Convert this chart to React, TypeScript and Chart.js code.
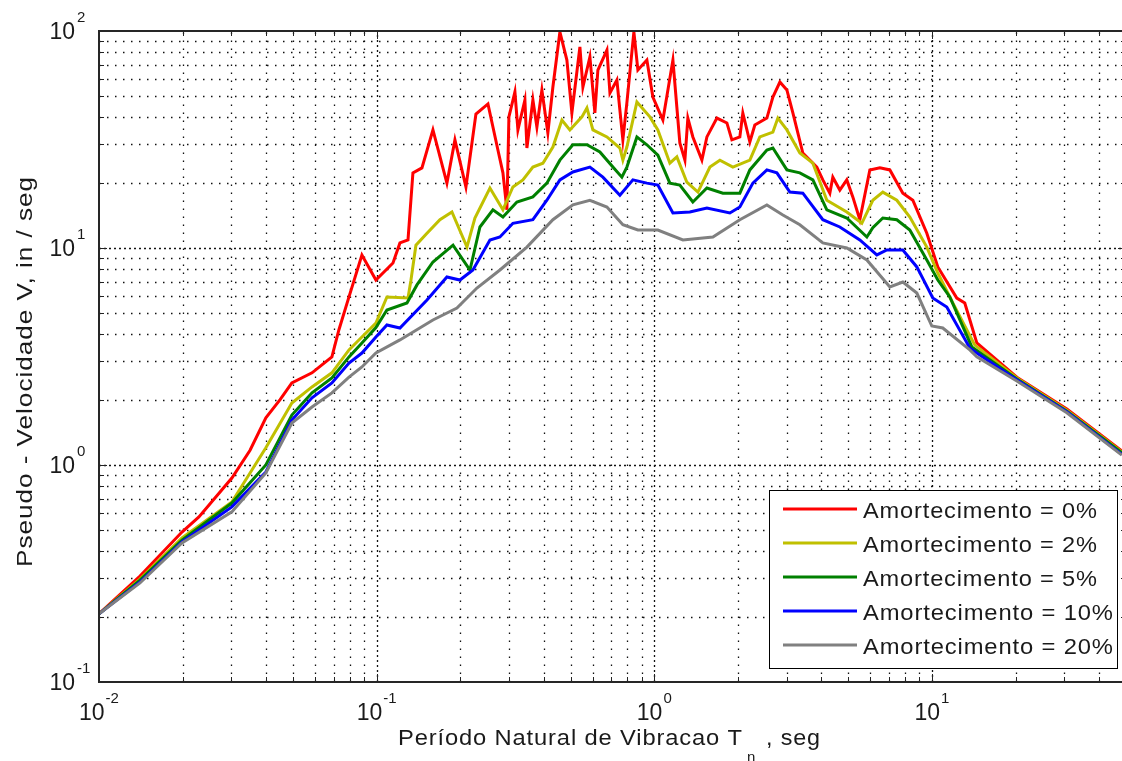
import React, { useEffect, useRef } from "react";
import { Chart, registerables } from "chart.js";

Chart.register(...registerables);

// ---- Data (period T in s, pseudo-velocity V in in/s) ----
const periods0 = [0.01, 0.01405, 0.0199, 0.0229, 0.0301, 0.035, 0.0399, 0.0449, 0.0495, 0.0585, 0.069, 0.0731, 0.0795, 0.0885, 0.0994, 0.1145, 0.1213, 0.1297, 0.1351, 0.1456, 0.1595, 0.1791, 0.1914, 0.2097, 0.2278, 0.2517, 0.2734, 0.285, 0.2945, 0.2995, 0.3148, 0.3227, 0.342, 0.3477, 0.3654, 0.3777, 0.3937, 0.4137, 0.4313, 0.4571, 0.4844, 0.5049, 0.5396, 0.5532, 0.5862, 0.611, 0.6264, 0.6752, 0.6922, 0.7333, 0.7706, 0.7966, 0.8443, 0.8727, 0.9404, 0.9883, 1.074, 1.167, 1.236, 1.289, 1.321, 1.377, 1.484, 1.547, 1.681, 1.826, 1.903, 2.033, 2.084, 2.209, 2.302, 2.544, 2.674, 2.834, 3.003, 3.156, 3.428, 3.85, 4.046, 4.288, 4.396, 4.658, 4.936, 5.188, 5.499, 5.975, 6.493, 7.054, 7.857, 8.536, 9.585, 10.5, 12.29, 13.13, 14.51, 20.22, 30.61, 48.3];
const values0 = [0.206, 0.308, 0.491, 0.576, 0.871, 1.17, 1.65, 2.0, 2.39, 2.66, 3.15, 4.19, 5.95, 9.29, 7.12, 8.53, 10.55, 10.89, 22.2, 23.4, 35.0, 19.9, 31.5, 19.1, 41.4, 46.1, 28.3, 22.2, 15.0, 40.2, 52.4, 35.0, 48.1, 28.9, 48.1, 36.1, 53.5, 33.9, 55.2, 99, 73.5, 41.9, 84.4, 55.2, 75.9, 41.9, 66.1, 81.7, 51.8, 59.4, 31.5, 46.6, 99, 66.1, 73.5, 49.6, 38.9, 73.5, 30.5, 25.4, 39.7, 32.5, 25.4, 32.5, 39.7, 37.7, 31.5, 32.5, 41.9, 30.8, 36.9, 39.7, 49.6, 58.2, 53.5, 41.9, 27.4, 23.6, 20.6, 17.9, 21.2, 18.5, 20.6, 17.2, 13.5, 22.9, 23.4, 22.9, 17.9, 16.6, 11.7, 8.18, 5.88, 5.58, 3.65, 2.54, 1.81, 1.16];

const periods2 = [0.01, 0.01405, 0.0199, 0.0301, 0.0399, 0.0495, 0.0585, 0.069, 0.0795, 0.0885, 0.0994, 0.1089, 0.1297, 0.1329, 0.1385, 0.1518, 0.169, 0.1867, 0.2115, 0.2259, 0.2559, 0.285, 0.3096, 0.3363, 0.3654, 0.397, 0.4313, 0.4648, 0.4966, 0.5487, 0.572, 0.601, 0.6752, 0.7518, 0.7706, 0.7966, 0.8657, 0.964, 1.03, 1.138, 1.206, 1.31, 1.436, 1.586, 1.723, 1.919, 2.209, 2.4, 2.674, 2.787, 3.003, 3.344, 3.725, 4.183, 4.936, 5.591, 6.124, 6.654, 7.474, 8.325, 9.585, 10.5, 11.89, 14.27, 20.22, 30.61, 48.3];
const values2 = [0.206, 0.298, 0.461, 0.675, 1.2, 1.93, 2.29, 2.66, 3.39, 3.89, 4.51, 5.95, 5.88, 7.1, 10.3, 11.7, 13.5, 14.65, 10.1, 13.75, 18.9, 15.0, 19.1, 20.6, 23.6, 24.6, 29.2, 38.9, 35.0, 40.2, 44.2, 35.0, 32.5, 28.9, 25.4, 29.2, 47.1, 40.2, 35.0, 24.6, 26.3, 20.1, 18.1, 23.6, 25.4, 23.6, 25.4, 32.5, 34.2, 39.7, 35.0, 27.4, 24.6, 16.6, 14.65, 13.0, 16.6, 18.1, 16.6, 13.9, 10.1, 7.67, 5.58, 3.57, 2.52, 1.79, 1.15];

const periods5 = [0.01, 0.01405, 0.0199, 0.0301, 0.0399, 0.0495, 0.0585, 0.069, 0.0795, 0.0885, 0.0994, 0.1089, 0.1286, 0.1397, 0.1595, 0.1884, 0.2168, 0.2355, 0.2623, 0.285, 0.32, 0.3654, 0.4103, 0.4571, 0.5091, 0.572, 0.6369, 0.7094, 0.7642, 0.7966, 0.8657, 0.9404, 1.03, 1.138, 1.236, 1.377, 1.547, 1.766, 2.033, 2.209, 2.544, 2.674, 3.003, 3.344, 3.725, 4.183, 4.936, 5.83, 6.124, 6.654, 7.474, 8.325, 9.585, 10.5, 11.6, 13.92, 20.22, 30.61, 48.3];
const values5 = [0.206, 0.295, 0.451, 0.668, 1.0, 1.7, 2.15, 2.52, 3.15, 3.65, 4.3, 5.18, 5.58, 6.76, 8.62, 10.3, 7.92, 12.5, 15.0, 13.9, 16.3, 17.2, 19.9, 25.4, 29.9, 29.9, 27.7, 23.6, 21.2, 23.6, 32.5, 29.9, 26.8, 19.9, 19.5, 16.3, 18.9, 17.9, 17.9, 22.9, 28.3, 28.9, 22.9, 22.2, 20.6, 15.0, 13.75, 11.24, 12.4, 13.75, 13.5, 12.1, 8.81, 7.12, 5.95, 3.5, 2.49, 1.77, 1.14];

const periods10 = [0.01, 0.01405, 0.0199, 0.0301, 0.0399, 0.0495, 0.0585, 0.069, 0.0795, 0.0885, 0.0994, 0.1089, 0.1213, 0.1518, 0.1791, 0.1995, 0.2222, 0.2559, 0.278, 0.3096, 0.3654, 0.4103, 0.4571, 0.5091, 0.5862, 0.6529, 0.7518, 0.8375, 0.9404, 1.03, 1.167, 1.343, 1.547, 1.872, 2.033, 2.265, 2.544, 2.764, 3.078, 3.428, 4.046, 4.658, 5.499, 6.333, 6.88, 7.857, 8.823, 10.07, 11.31, 13.69, 14.51, 20.22, 30.61, 48.3];
const values10 = [0.206, 0.289, 0.442, 0.641, 0.929, 1.61, 2.04, 2.39, 2.95, 3.28, 3.89, 4.42, 4.28, 5.76, 7.35, 7.12, 7.92, 10.89, 11.24, 13.0, 13.5, 16.6, 20.6, 22.4, 23.6, 21.2, 17.5, 20.6, 19.9, 19.5, 14.5, 14.65, 15.3, 14.5, 15.45, 19.9, 22.9, 22.2, 18.1, 17.9, 13.5, 12.5, 10.89, 9.29, 9.79, 9.79, 8.18, 5.88, 5.35, 3.46, 3.28, 2.47, 1.76, 1.12];

const periods20 = [0.01, 0.01405, 0.0199, 0.0301, 0.0399, 0.0495, 0.0585, 0.069, 0.0795, 0.0885, 0.0994, 0.1213, 0.1595, 0.1946, 0.2297, 0.278, 0.3477, 0.4313, 0.5091, 0.5862, 0.6752, 0.7706, 0.8727, 1.03, 1.268, 1.626, 2.033, 2.544, 2.905, 3.344, 4.046, 4.936, 5.83, 7.054, 7.857, 8.823, 9.99, 10.94, 13.69, 14.51, 20.22, 30.61, 48.3];
const values20 = [0.206, 0.286, 0.437, 0.608, 0.919, 1.56, 1.85, 2.15, 2.54, 2.83, 3.28, 3.77, 4.66, 5.29, 6.54, 7.92, 10.1, 13.5, 15.8, 16.6, 15.45, 12.8, 12.1, 12.1, 10.89, 11.24, 13.5, 15.8, 14.2, 12.8, 10.55, 10.0, 8.81, 6.61, 6.97, 6.2, 4.37, 4.28, 3.39, 3.15, 2.44, 1.74, 1.11];

const seriesLabels = ["Amortecimento = 0%", "Amortecimento = 2%", "Amortecimento = 5%", "Amortecimento = 10%", "Amortecimento = 20%"];
const seriesColors = ["#ff0000", "#c0c000", "#008000", "#0000ff", "#808080"];
const seriesPeriods = [periods0, periods2, periods5, periods10, periods20];
const seriesValues = [values0, values2, values5, values10, values20];

// axis decades and their exponent labels
const xDecades = [0.01, 0.1, 1, 10];
const xExponents = ["-2", "-1", "0", "1"];
const yDecades = [0.1, 1, 10, 100];
const yExponents = ["-1", "0", "1", "2"];
const xTitleMain = "Período Natural de Vibracao T";
const xTitleSub = "n";
const xTitleEnd = ", seg";
const yTitle = "Pseudo - Velocidade V, in / seg";

const FONT = '"Liberation Sans", Arial, Helvetica, sans-serif';
const TEXT = "#1a1a1a";

// draws text with a little letter spacing, then stretched horizontally to a target width
function wideText(ctx: CanvasRenderingContext2D, text: string, x: number, y: number, width: number) {
  const c: any = ctx;
  const hasLS = "letterSpacing" in c;
  const n = Array.from(text).length;
  const ls = hasLS ? 0.8 : 0;
  if (hasLS) c.letterSpacing = ls + "px";
  const w = ctx.measureText(text).width - ls; // remove trailing spacing
  ctx.textAlign = "left";
  ctx.save();
  ctx.translate(x, y);
  ctx.scale(width / w, 1);
  ctx.fillText(text, 0, 0);
  ctx.restore();
  if (hasLS) c.letterSpacing = "0px";
  void n;
}

function gridValues(decades: number[], min: number, max: number) {
  const out: { v: number; major: boolean }[] = [];
  decades.forEach((d) => {
    for (let m = 1; m <= 9; m++) {
      const v = d * m;
      if (v >= min * 0.999 && v <= max * 1.001) out.push({ v, major: m === 1 });
    }
  });
  return out;
}

const decorPlugin = {
  id: "decor",
  beforeDatasetsDraw(chart: any) {
    const { ctx, chartArea: a, scales } = chart;
    const xs = scales.x;
    const ys = scales.y;
    ctx.save();
    ctx.beginPath();
    ctx.rect(a.left, a.top, a.right - a.left, a.bottom - a.top);
    ctx.clip();
    ctx.strokeStyle = "#111";
    ctx.lineWidth = 1.3;
    gridValues(xDecades, xs.min, xs.max).forEach(({ v, major }) => {
      const px = Math.round(xs.getPixelForValue(v)) + 0.5;
      if (px <= a.left + 1) return;
      ctx.setLineDash(major ? [2, 3] : [1.5, 6.5]);
      ctx.beginPath();
      ctx.moveTo(px, a.bottom);
      ctx.lineTo(px, a.top);
      ctx.stroke();
    });
    gridValues(yDecades, ys.min, ys.max).forEach(({ v, major }) => {
      const py = Math.round(ys.getPixelForValue(v)) + 0.5;
      if (py >= a.bottom - 1 || py <= a.top + 1) return;
      ctx.setLineDash(major ? [2, 3] : [1.5, 6.5]);
      ctx.beginPath();
      ctx.moveTo(a.left, py);
      ctx.lineTo(a.right, py);
      ctx.stroke();
    });
    ctx.restore();
  },
  afterDatasetsDraw(chart: any) {
    const { ctx, chartArea: a, scales } = chart;
    const xs = scales.x;
    const ys = scales.y;
    ctx.save();
    ctx.setLineDash([]);
    // tick marks inside the frame
    ctx.strokeStyle = "#222";
    ctx.lineWidth = 1;
    gridValues(xDecades, xs.min, xs.max).forEach(({ v, major }) => {
      const px = Math.round(xs.getPixelForValue(v)) + 0.5;
      const len = major ? 8 : 5;
      ctx.beginPath();
      ctx.moveTo(px, a.bottom);
      ctx.lineTo(px, a.bottom - len);
      ctx.moveTo(px, a.top);
      ctx.lineTo(px, a.top + len);
      ctx.stroke();
    });
    gridValues(yDecades, ys.min, ys.max).forEach(({ v, major }) => {
      const py = Math.round(ys.getPixelForValue(v)) + 0.5;
      const len = major ? 8 : 5;
      ctx.beginPath();
      ctx.moveTo(a.left, py);
      ctx.lineTo(a.left + len, py);
      ctx.moveTo(a.right, py);
      ctx.lineTo(a.right - len, py);
      ctx.stroke();
    });
    // frame
    ctx.strokeStyle = "#262626";
    ctx.lineWidth = 2;
    ctx.strokeRect(a.left, a.top, a.right - a.left, a.bottom - a.top);

    // tick labels
    ctx.fillStyle = TEXT;
    ctx.textBaseline = "alphabetic";
    const baseFont = `23px ${FONT}`;
    const supFont = `15px ${FONT}`;
    xDecades.forEach((d, i) => {
      const px = xs.getPixelForValue(d);
      ctx.font = baseFont;
      const bw = ctx.measureText("10").width;
      ctx.font = supFont;
      const sw = ctx.measureText(xExponents[i]).width;
      const total = bw + 1 + sw;
      const left = px - total / 2;
      ctx.font = baseFont;
      ctx.textAlign = "left";
      ctx.fillText("10", left, a.bottom + 38);
      ctx.font = supFont;
      ctx.fillText(xExponents[i], left + bw + 1, a.bottom + 21);
    });
    yDecades.forEach((d, i) => {
      const py = ys.getPixelForValue(d);
      ctx.font = baseFont;
      ctx.textAlign = "right";
      ctx.fillText("10", a.left - 24, py + 8);
      ctx.font = supFont;
      ctx.textAlign = "left";
      ctx.fillText(yExponents[i], a.left - 22, py - 9);
    });

    // axis titles
    ctx.font = `22px ${FONT}`;
    wideText(ctx, xTitleMain, 398, 745, 344);
    ctx.font = `15px ${FONT}`;
    ctx.textAlign = "left";
    ctx.fillText(xTitleSub, 747, 762);
    ctx.font = `22px ${FONT}`;
    wideText(ctx, xTitleEnd, 766, 745, 54);

    ctx.save();
    ctx.translate(32, 567);
    ctx.rotate(-Math.PI / 2);
    ctx.font = `22px ${FONT}`;
    wideText(ctx, yTitle, 0, 0, 390);
    ctx.restore();

    // legend
    const lx = 769.5, ly = 490.5, lw = 348, lh = 178;
    ctx.fillStyle = "#ffffff";
    ctx.fillRect(lx, ly, lw, lh);
    ctx.strokeStyle = "#000";
    ctx.lineWidth = 1;
    ctx.strokeRect(lx, ly, lw, lh);
    seriesLabels.forEach((lab, i) => {
      const yy = 509 + i * 34;
      ctx.strokeStyle = seriesColors[i];
      ctx.lineWidth = 3;
      ctx.beginPath();
      ctx.moveTo(783, yy);
      ctx.lineTo(857, yy);
      ctx.stroke();
      ctx.fillStyle = TEXT;
      ctx.font = `22px ${FONT}`;
      const target = lab.length === 18 ? 234 : 250;
      wideText(ctx, lab, 863, yy + 9, target);
    });
    ctx.restore();
  },
};

export default function App() {
  const ref = useRef<HTMLCanvasElement | null>(null);
  useEffect(() => {
    if (!ref.current) return;
    const datasets = seriesLabels.map((label, i) => ({
      label,
      data: seriesPeriods[i].map((t, j) => ({ x: t, y: seriesValues[i][j] })),
      borderColor: seriesColors[i],
      backgroundColor: seriesColors[i],
      borderWidth: 3,
      pointRadius: 0,
      tension: 0,
      fill: false,
      order: 5 - i,
    }));
    const chart = new Chart(ref.current, {
      type: "line",
      data: { datasets },
      options: {
        animation: false,
        responsive: true,
        maintainAspectRatio: false,
        devicePixelRatio: 1,
        layout: { padding: { left: 99, top: 31, right: 4, bottom: 79 } },
        plugins: { legend: { display: false }, tooltip: { enabled: false }, title: { display: false } },
        scales: {
          x: { type: "logarithmic", min: 0.01, max: 50, display: false },
          y: { type: "logarithmic", min: 0.1, max: 100, display: false },
        },
        events: [],
      },
      plugins: [decorPlugin],
    } as any);
    return () => chart.destroy();
  }, []);
  return (
    <div style={{ position: "fixed", left: 0, top: 0, width: 1122, height: 761, overflow: "hidden", background: "#ffffff" }}>
      <div style={{ position: "relative", width: 1130, height: 761 }}>
        <canvas ref={ref} />
      </div>
    </div>
  );
}
